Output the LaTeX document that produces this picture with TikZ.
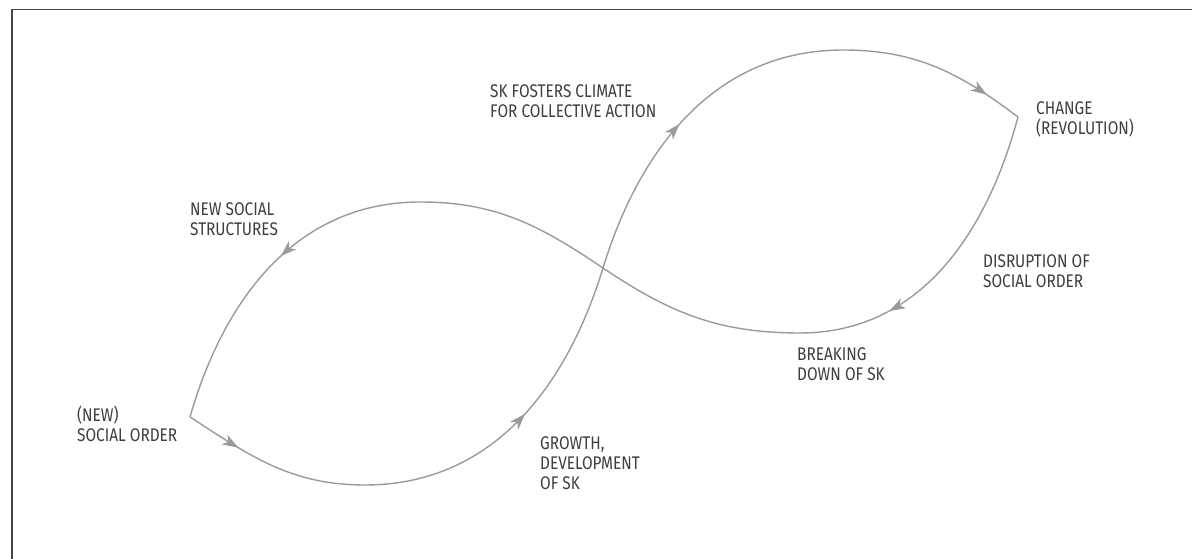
\documentclass[tikz,border=0pt]{standalone}
\usepackage{fontspec}
\setmainfont{Fira Sans}[FakeStretch=0.84]
\usetikzlibrary{arrows.meta,decorations.markings}
\definecolor{curvecol}{HTML}{9A9A9C}
\definecolor{framecol}{HTML}{454545}
\definecolor{txtcol}{HTML}{3E3E3E}
\begin{document}
\begin{tikzpicture}[x=1pt,y=1pt,
  lbl/.style={anchor=north west,inner sep=0pt,align=left,text=txtcol,font=\fontsize{18.3}{20}\selectfont},
  flow/.style={color=curvecol,line width=1.4pt},
  arr/.style={postaction={decorate},decoration={markings,mark=at position #1 with {\arrow{Stealth[length=16pt,width=11pt,inset=4.5pt]}}}}
]
\useasboundingbox (0,0) rectangle (1192,559);
\draw[framecol,line width=1.6pt] (1192,549.5) -- (12,549.5) -- (12,0);

\coordinate (A) at (190,142);
\coordinate (B1) at (365,74);
\coordinate (X) at (603,291);
\coordinate (T1) at (843,509);
\coordinate (C) at (1018,442);
\coordinate (B2) at (800,226);
\coordinate (T2) at (420,357);

\draw[flow,arr=0.3] (A) to[out=-33,in=180] (B1);
\draw[flow,arr=0.52] (B1) to[out=0,in=253] (X);
\draw[flow,arr=0.47] (X) to[out=73,in=180] (T1);
\draw[flow,arr=0.8] (T1) to[out=0,in=143] (C);
\draw[flow,arr=0.72] (C) to[out=255,in=0] (B2);
\draw[flow] (B2) to[out=180,in=-34] (X);
\draw[flow] (X) to[out=146,in=0] (T2);
\draw[flow,arr=0.45] (T2) to[out=180,in=74] (A);

\node[lbl] (nss) at (190,357) {NEW SOCIAL\\STRUCTURES};
\node[lbl] (sk) at (490,475) {SK FOSTERS CLIMATE\\FOR COLLECTIVE ACTION};
\node[lbl] (chg) at (1036,458) {CHANGE\\(REVOLUTION)};
\node[lbl] (dis) at (983,305) {DISRUPTION OF\\SOCIAL ORDER};
\node[lbl] (brk) at (797,212) {BREAKING\\DOWN OF SK};
\node[lbl] (nso) at (77,153) {(NEW)\\SOCIAL ORDER};
\node[lbl] (gro) at (540,123) {GROWTH,\\DEVELOPMENT\\OF SK};
\end{tikzpicture}
\end{document}
